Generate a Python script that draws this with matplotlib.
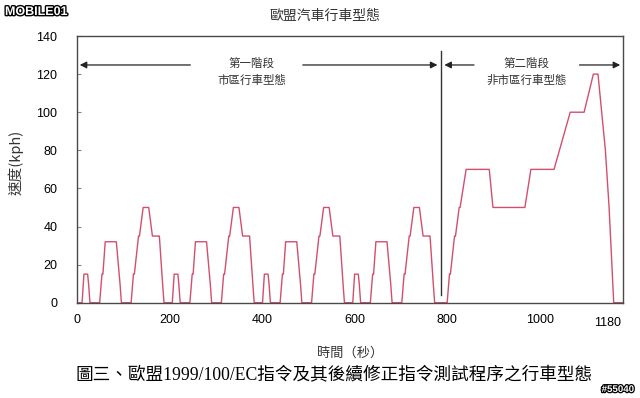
import numpy as np
import matplotlib
matplotlib.use('Agg')
import matplotlib.pyplot as plt
import matplotlib.patheffects as pe

plt.rcParams['font.family'] = ['Liberation Sans', 'Noto Sans CJK TC', 'DejaVu Sans']

# NEDC breakpoints: time (s) and speed (kph)
# urban part, 4 x ECE cycle
t_ece = [0, 11, 15, 23, 25, 28, 49, 54, 56, 61, 85, 93, 96, 117, 122, 124, 133, 135, 143, 155, 163, 176, 178, 185, 188,
         195, 206, 210, 218, 220, 223, 244, 249, 251, 256, 280, 288, 291, 312, 317, 319, 328, 330, 338, 350, 358, 371, 373, 380, 383,
         390, 401, 405, 413, 415, 418, 439, 444, 446, 451, 475, 483, 486, 507, 512, 514, 523, 525, 533, 545, 553, 566, 568, 575, 578,
         585, 596, 600, 608, 610, 613, 634, 639, 641, 646, 670, 678, 681, 702, 707, 709, 718, 720, 728, 740, 748, 761, 763, 770, 773]
v_ece = [0, 0, 15, 15, 10, 0, 0, 15, 15, 32, 32, 10, 0, 0, 15, 15, 35, 35, 50, 50, 35, 35, 35, 10, 0,
         0, 0, 15, 15, 10, 0, 0, 15, 15, 32, 32, 10, 0, 0, 15, 15, 35, 35, 50, 50, 35, 35, 35, 10, 0,
         0, 0, 15, 15, 10, 0, 0, 15, 15, 32, 32, 10, 0, 0, 15, 15, 35, 35, 50, 50, 35, 35, 35, 10, 0,
         0, 0, 15, 15, 10, 0, 0, 15, 15, 32, 32, 10, 0, 0, 15, 15, 35, 35, 50, 50, 35, 35, 35, 10, 0]
# extra-urban part (EUDC)
t_eudc = [780, 800, 805, 807, 816, 818, 826, 828, 841, 891, 899, 968, 981, 1031, 1066, 1096, 1116, 1126, 1142, 1150, 1160, 1180]
v_eudc = [0, 0, 15, 15, 35, 35, 50, 50, 70, 70, 50, 50, 70, 70, 100, 100, 120, 120, 80, 50, 0, 0]

xticks = [0, 200, 400, 600, 800, 1000]
yticks = [0, 20, 40, 60, 80, 100, 120, 140]
phase_split = 787

t = np.array(t_ece + t_eudc)
v = np.array(v_ece + v_eudc)

fig = plt.figure(figsize=(6.4, 3.98), dpi=100)
ax = fig.add_axes([0.1203, 0.2394, 0.8531, 0.6701])

ax.plot(t, v, '-', color='#d24f6e', lw=1.0, zorder=1)

ax.set_xlim(0, 1180)
ax.set_ylim(0, 140)
ax.set_xticks(xticks)
ax.set_yticks(yticks)
for s in ax.spines.values():
    s.set_color('#4a4a4a')
    s.set_linewidth(1.0)
    s.set_zorder(3)
ax.tick_params(axis='y', direction='in', length=3, color='#888888', pad=14, labelsize=9)
ax.tick_params(axis='x', direction='in', length=0, pad=8, labelsize=9)
ax.text(1147, -7.3, '1180', ha='center', va='top', fontsize=9)

# phase divider and arrows
ax.plot([phase_split, phase_split], [4, 132], color='#333333', lw=1.0)
arr = dict(arrowstyle='-|>', color='#222222', lw=0.9, mutation_scale=10)
ax.annotate('', xy=(0, 124.8), xytext=(251, 124.8), arrowprops=arr)
ax.annotate('', xy=(phase_split - 2, 124.8), xytext=(482, 124.8), arrowprops=arr)
ax.annotate('', xy=(phase_split + 1, 124.8), xytext=(864, 124.8), arrowprops=arr)
ax.annotate('', xy=(1180, 124.8), xytext=(1080, 124.8), arrowprops=arr)
cjk = ['Noto Sans CJK TC']
ax.text(378, 125.8, '第一階段', ha='center', va='center', fontsize=8.3, family=cjk, color='#333333')
ax.text(378, 116.9, '市區行車型態', ha='center', va='center', fontsize=8.3, family=cjk, color='#333333')
ax.text(972, 125.8, '第二階段', ha='center', va='center', fontsize=8.3, family=cjk, color='#333333')
ax.text(972, 116.9, '非市區行車型態', ha='center', va='center', fontsize=8.3, family=cjk, color='#333333')

fig.text(325 / 640, 1 - 16 / 398, '歐盟汽車行車型態', ha='center', va='center', fontsize=10,
         family=cjk, color='#333333')
fig.text(16 / 640, 1 - 162 / 398, '速度(kph)', ha='center', va='center', rotation=90, fontsize=10.5,
         family=cjk, color='#333333')
fig.text(350 / 640, 1 - 353 / 398, '時間（秒）', ha='center', va='center', fontsize=9.5,
         family=cjk, color='#333333')
fig.text(334 / 640, 1 - 376 / 398, '圖三、歐盟1999/100/EC指令及其後續修正指令測試程序之行車型態',
         ha='center', va='center', fontsize=12.7, family=['Liberation Serif', 'Noto Sans CJK TC'])

# watermark bits
fig.text(5 / 640, 1 - 12 / 398, 'MOBILE01', ha='left', va='center', fontsize=9, fontweight='bold',
         color='white', path_effects=[pe.withStroke(linewidth=2, foreground='black')])
fig.text(634 / 640, 1 - 389 / 398, '#55040', ha='right', va='center', fontsize=7, fontweight='bold',
         color='white', path_effects=[pe.withStroke(linewidth=1.8, foreground='black')])

fig.savefig('out.png', dpi=100, facecolor='white')
